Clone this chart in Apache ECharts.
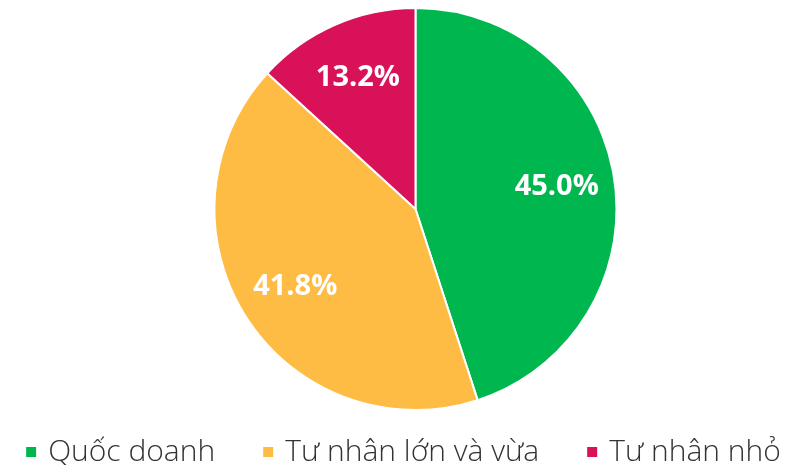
<!DOCTYPE html>
<html><head><meta charset="utf-8">
<script src="https://cdn.jsdelivr.net/npm/echarts@6/dist/echarts.min.js"></script>
<style>html,body{margin:0;padding:0;background:#fff}#c{width:805px;height:465px}</style>
</head><body><div id="c"></div>
<script>
const categories = ["Quốc doanh", "Tư nhân lớn và vừa", "Tư nhân nhỏ"];
const values = [45.0, 41.8, 13.2];
const colors = ["#00B74F", "#FFBC44", "#D81159"];

const data = categories.map((n, i) => ({ name: n, value: values[i], itemStyle: { color: colors[i] } }));
const chart = echarts.init(document.getElementById('c'));
chart.setOption({
  animation: false,
  legend: {
    top: 432, left: 'center',
    itemWidth: 12, itemHeight: 12, itemGap: 46,
    icon: 'rect',
    textStyle: { fontSize: 30, color: '#333', fontFamily: 'Open Sans', fontWeight: 300, padding: [0, 0, 0, 6] },
    data: categories
  },
  series: [
    {
      type: 'pie', center: [415.5, 209], radius: [0, 201],
      startAngle: 90, clockwise: true,
      itemStyle: { borderColor: '#fff', borderWidth: 2 },
      label: { show: false }, labelLine: { show: false },
      data: data
    },
    {
      type: 'pie', center: [415.5, 209], radius: [80, 200],
      startAngle: 90, clockwise: true, silent: true,
      itemStyle: { color: 'transparent' },
      label: { show: true, position: 'inside', color: '#fff', fontSize: 29, fontWeight: 'bold', fontFamily: 'Open Sans',
        formatter: p => p.value.toFixed(1) + '%' },
      labelLine: { show: false },
      data: categories.map((n, i) => ({ name: n + ' ', value: values[i] }))
    }
  ]
});
</script></body></html>
